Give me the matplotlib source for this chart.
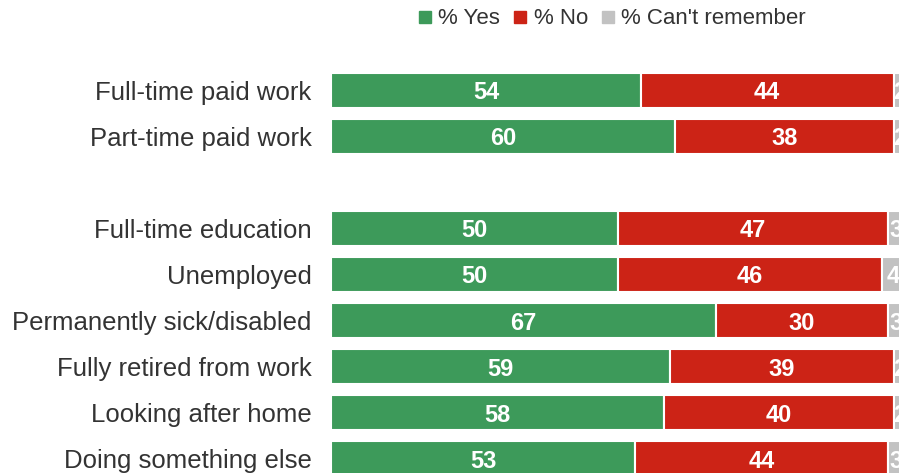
import matplotlib
matplotlib.use("Agg")
import matplotlib.pyplot as plt
from matplotlib.lines import Line2D
import numpy as np

plt.rcParams['font.family'] = ['Liberation Sans', 'DejaVu Sans']

categories = ["Full-time paid work", "Part-time paid work",
              "Full-time education", "Unemployed", "Permanently sick/disabled",
              "Fully retired from work", "Looking after home", "Doing something else"]
yes = [54, 60, 50, 50, 67, 59, 58, 53]
no = [44, 38, 47, 46, 30, 39, 40, 44]
cant = [2, 2, 3, 4, 3, 2, 2, 3]
series_names = ["% Yes", "% No", "% Can't remember"]
colors = ["#3d9a5a", "#cc2316", "#c2c2c2"]

# first two rows are a separate group, one blank row in between
pos = np.array([i if i < 2 else i + 1 for i in range(len(categories))])

fig = plt.figure(figsize=(8.99, 4.73), dpi=100)
ax = fig.add_axes([331 / 899, 0, 574 / 899, 1])

left = np.zeros(len(categories))
for vals, col in zip([yes, no, cant], colors):
    vals = np.array(vals)
    ax.barh(pos, vals, left=left, height=0.76, color=col, edgecolor="white", linewidth=1.5)
    for p, l, v in zip(pos, left, vals):
        ax.text(l + v / 2, p, str(v), ha="center", va="center_baseline", color="white",
                fontsize=17, fontweight="bold")
    left += vals

ax.set_xlim(0, 100)
ax.set_ylim(8.315, -1.967)
ax.set_yticks(pos)
ax.set_yticklabels(categories, fontsize=18.5, color="#333333")
ax.tick_params(axis="y", length=0, pad=14)
ax.set_xticks([])
for s in ax.spines.values():
    s.set_visible(False)

handles = [Line2D([], [], marker="s", linestyle="none", markersize=8, color=c) for c in colors]
fig.legend(handles, series_names, loc="center", bbox_to_anchor=(612 / 899, 1 - 19 / 473),
           ncol=3, frameon=False, fontsize=16, handlelength=0.6, handletextpad=0.3,
           columnspacing=0.6, labelcolor="#333333")

fig.savefig("out.png", dpi=100)
